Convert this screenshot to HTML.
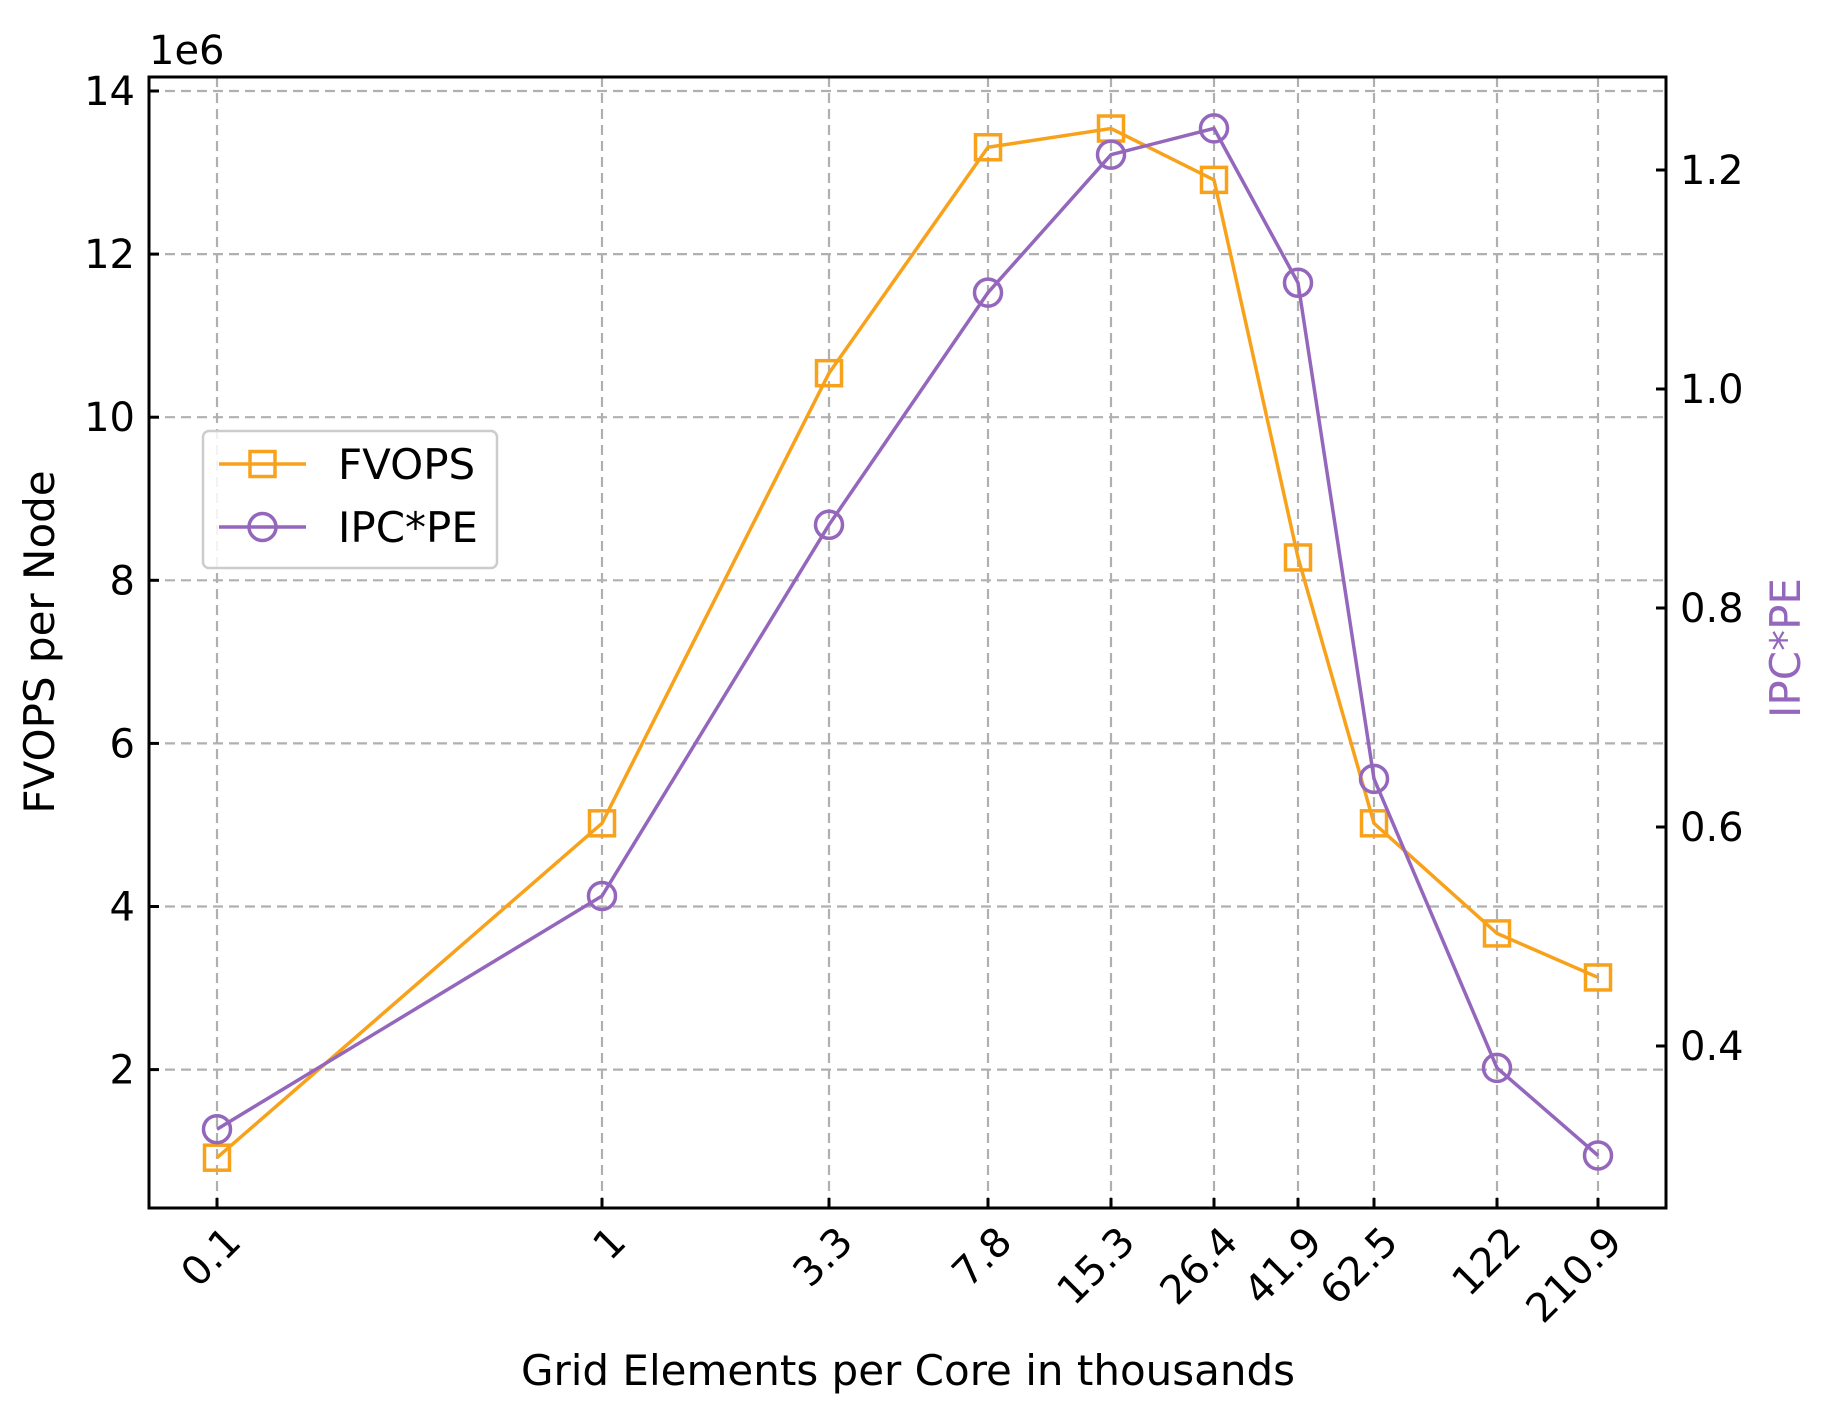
<!DOCTYPE html>
<html><head><meta charset="utf-8"><style>
html,body{margin:0;padding:0;background:#fff;}
svg{display:block;font-family:"DejaVu Sans","Liberation Sans",sans-serif;}
</style></head><body>
<svg id="chart" width="1827" height="1424" viewBox="0 0 1827 1424" xmlns="http://www.w3.org/2000/svg"></svg>
<script>
const categories = ["0.1","1","3.3","7.8","15.3","26.4","41.9","62.5","122","210.9"];
const fvops = [0.92,5.02,10.54,13.31,13.54,12.91,8.28,5.02,3.67,3.13];
const ipcpe = [0.324,0.537,0.876,1.088,1.214,1.238,1.097,0.644,0.380,0.300];
const leftTicks = [2,4,6,8,10,12,14];
const rightTicks = ["0.4","0.6","0.8","1.0","1.2"];

const L=149,R=1666,T=77,B=1208;
const catPos=[217,602,829,988,1111,1214,1298,1374,1497,1598];
function xs(i){return catPos[i];}
function yl(v){return 91+(14-v)*81.55;}
function yr(v){return 170+(1.2-v)*1095;}
const svg=document.getElementById('chart');
const NS='http://www.w3.org/2000/svg';
function mk(tag,attrs,parent){const e=document.createElementNS(NS,tag);for(const k in attrs)e.setAttribute(k,attrs[k]);(parent||svg).appendChild(e);return e;}
const ORANGE='#f8a21c',PURPLE='#9467bd';
const TF=40, LF=42;

categories.forEach((c,i)=>{
  const g=mk('line',{x1:xs(i),x2:xs(i),y1:T,y2:B,stroke:'#b0b0b0','stroke-width':2.2,'stroke-dasharray':'10,6'});
  
  
});
leftTicks.forEach(v=>{
  const g=mk('line',{x1:L,x2:R,y1:yl(v),y2:yl(v),stroke:'#b0b0b0','stroke-width':2.2,'stroke-dasharray':'10,6'});
  
  
});
categories.forEach((c,i)=>{
  const t=mk('line',{x1:xs(i),x2:xs(i),y1:B,y2:B-10,stroke:'#000','stroke-width':3});
  
  
  const ax=xs(i)+26, ay=B+36;
  const tx=mk('text',{x:ax,y:ay,'font-size':TF,'text-anchor':'end',transform:`rotate(-45 ${ax} ${ay})`});
  tx.textContent=c;
  
  
});
leftTicks.forEach(v=>{
  const t=mk('line',{x1:L,x2:L+10,y1:yl(v),y2:yl(v),stroke:'#000','stroke-width':3});
  
  
  const tx=mk('text',{x:L-14,y:yl(v)+14,'font-size':TF,'text-anchor':'end'});
  tx.textContent=v;
  
  
});
rightTicks.forEach(s=>{
  const v=parseFloat(s);
  const t=mk('line',{x1:R,x2:R-10,y1:yr(v),y2:yr(v),stroke:'#000','stroke-width':3});
  
  
  const tx=mk('text',{x:R+14,y:yr(v)+14,'font-size':TF,'text-anchor':'start'});
  tx.textContent=s;
  
  
});
const fl=mk('polyline',{points:fvops.map((v,i)=>xs(i)+','+yl(v)).join(' '),fill:'none',stroke:ORANGE,'stroke-width':3.5});


fvops.forEach((v,i)=>{
  const m=mk('rect',{x:xs(i)-12.5,y:yl(v)-12.5,width:25,height:25,fill:'none',stroke:ORANGE,'stroke-width':3.5});
  
  
});
const pl=mk('polyline',{points:ipcpe.map((v,i)=>xs(i)+','+yr(v)).join(' '),fill:'none',stroke:PURPLE,'stroke-width':3.5});


ipcpe.forEach((v,i)=>{
  const m=mk('circle',{cx:xs(i),cy:yr(v),r:13.5,fill:'none',stroke:PURPLE,'stroke-width':3.5});
  
  
});
const fr=mk('rect',{x:L,y:T,width:R-L,height:B-T,fill:'none',stroke:'#000','stroke-width':3});


let e=mk('text',{x:L,y:64,'font-size':TF});e.textContent='1e6';


e=mk('text',{x:54,y:642,'font-size':LF,'text-anchor':'middle',transform:'rotate(-90 54 642)'});e.textContent='FVOPS per Node';


e=mk('text',{x:1800,y:648,'font-size':LF,'text-anchor':'middle',fill:PURPLE,transform:'rotate(-90 1800 648)'});e.textContent='IPC*PE';


e=mk('text',{x:908,y:1385,'font-size':LF,'text-anchor':'middle'});e.textContent='Grid Elements per Core in thousands';


const lg=mk('g',{});


mk('rect',{x:203,y:431,width:294,height:137,rx:6,fill:'#fff','fill-opacity':0.85,stroke:'#cccccc','stroke-width':2.5},lg);
const e1=mk('g',{},lg);


mk('line',{x1:219,x2:306,y1:464,y2:464,stroke:ORANGE,'stroke-width':3.5},e1);
mk('rect',{x:250,y:451.5,width:25,height:25,fill:'none',stroke:ORANGE,'stroke-width':3.5},e1);
let lt=mk('text',{x:338,y:479,'font-size':LF},e1);lt.textContent='FVOPS';
const e2=mk('g',{},lg);


mk('line',{x1:219,x2:306,y1:527,y2:527,stroke:PURPLE,'stroke-width':3.5},e2);
mk('circle',{cx:262.5,cy:527,r:13.5,fill:'none',stroke:PURPLE,'stroke-width':3.5},e2);
lt=mk('text',{x:338,y:542,'font-size':LF},e2);lt.textContent='IPC*PE';
</script>
</body></html>
